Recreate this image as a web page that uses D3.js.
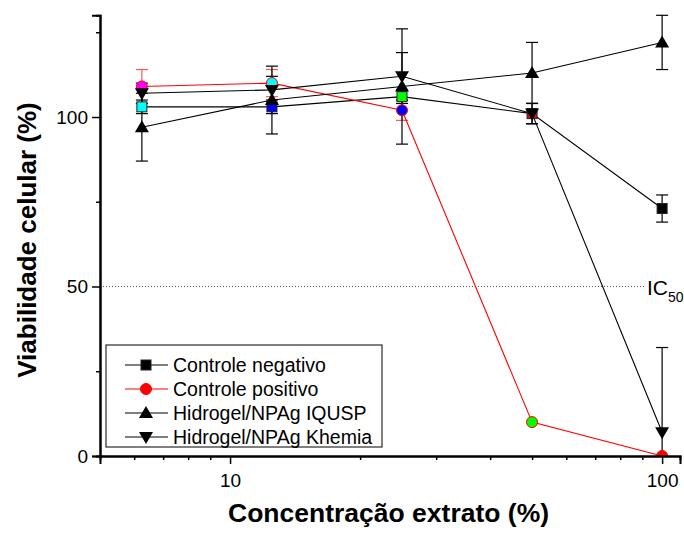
<!DOCTYPE html>
<html>
<head>
<meta charset="utf-8">
<script src="https://cdn.jsdelivr.net/npm/d3@7"></script>
<style>
  body { margin: 0; background: #fff; }
  text { font-family: "Liberation Sans", Arial, sans-serif; }
</style>
</head>
<body>
<svg id="canvas" width="684" height="533"></svg>
<script>
// concentrations (%)
let conc = [6.25, 12.5, 25, 50, 100]

let negVals = [103, 103, 106, 101, 73]
let negErr = [2, 2, 2, 3, 4]
let negFill = ["#00ffff", "#0000ff", "#00ff00", "#ff0000", "#000000"]

let posVals = [109, 110, 102, 10, 0]
let posErr = [5, 4, 3, 0, 0]
let posFill = ["#ff00ff", "#00ffff", "#0000ff", "#00ff00", "#ff0000"]

let iqVals = [97, 105, 109, 113, 122]
let iqErr = [10, 10, 17, 9, 8]

let khVals = [107, 108, 112, 101, 7]
let khErr = [3, 4, 7, 3, 25]

let seriesNames = ["Controle negativo", "Controle positivo", "Hidrogel/NPAg IQUSP", "Hidrogel/NPAg Khemia"]
let yTicks = [0, 50, 100]
let yMinor = [25, 75, 125]
let xTicks = [10, 100]
let xMinor = [6, 7, 8, 9, 20, 30, 40, 50, 60, 70, 80, 90]

let svg = d3.select("#canvas")

let x = d3.scaleLog().domain([5, 110]).range([100, 680])
let y = d3.scaleLinear().domain([0, 130]).range([456, 15.3])

svg.append("clipPath").attr("id", "plotclip")
    .append("rect").attr("x", 100).attr("y", 0).attr("width", 584).attr("height", 456)

let series = [
    {name: seriesNames[0], vals: negVals, err: negErr, line: "#000", errColor: "#000", shape: "square", fills: negFill, stroke: "#222"},
    {name: seriesNames[1], vals: posVals, err: posErr, line: "#ff0000", errColor: "#ff5555", shape: "circle", fills: posFill, stroke: "#ff0000"},
    {name: seriesNames[2], vals: iqVals, err: iqErr, line: "#000", errColor: "#000", shape: "up", fills: conc.map(() => "#000"), stroke: "#000"},
    {name: seriesNames[3], vals: khVals, err: khErr, line: "#000", errColor: "#000", shape: "down", fills: conc.map(() => "#000"), stroke: "#000"}
]

let drawMarker = (g, shape, cx, cy, fill, stroke) => {
    if (shape === "square") {
        g.append("rect").attr("x", cx - 5).attr("y", cy - 5).attr("width", 10).attr("height", 10)
            .attr("fill", fill).attr("stroke", stroke).attr("stroke-width", 1)
    } else if (shape === "circle") {
        g.append("circle").attr("cx", cx).attr("cy", cy).attr("r", 5.5)
            .attr("fill", fill).attr("stroke", stroke).attr("stroke-width", 1)
    } else if (shape === "up") {
        g.append("path").attr("d", `M${cx},${cy - 7}L${cx + 7},${cy + 5}L${cx - 7},${cy + 5}Z`)
            .attr("fill", fill)
    } else {
        g.append("path").attr("d", `M${cx},${cy + 7}L${cx + 7},${cy - 5}L${cx - 7},${cy - 5}Z`)
            .attr("fill", fill)
    }
}

// IC50 reference line
svg.append("line")
    .attr("x1", x(5)).attr("x2", 645)
    .attr("y1", y(50)).attr("y2", y(50))
    .attr("stroke", "#555").attr("stroke-width", 1).attr("stroke-dasharray", "1,2")
let ic = svg.append("text").attr("x", 647).attr("y", y(50) + 8).attr("font-size", 21).attr("fill", "#000")
ic.append("tspan").text("IC")
ic.append("tspan").attr("font-size", 14).attr("dy", 7).text("50")

let plot = svg.append("g").attr("clip-path", "url(#plotclip)")

// error bars
series.forEach(s => {
    let g = plot.append("g")
    conc.forEach((c, i) => {
        if (s.err[i] <= 0) return
        let cx = x(c)
        let top = y(s.vals[i] + s.err[i])
        let bot = y(s.vals[i] - s.err[i])
        g.append("line").attr("x1", cx).attr("x2", cx).attr("y1", top).attr("y2", bot)
            .attr("stroke", s.errColor).attr("stroke-width", 1.2)
        g.append("line").attr("x1", cx - 6).attr("x2", cx + 6).attr("y1", top).attr("y2", top)
            .attr("stroke", s.errColor).attr("stroke-width", 1.2)
        g.append("line").attr("x1", cx - 6).attr("x2", cx + 6).attr("y1", bot).attr("y2", bot)
            .attr("stroke", s.errColor).attr("stroke-width", 1.2)
    })
})

// lines
let lineGen = d3.line().x(d => x(d[0])).y(d => y(d[1]))
series.forEach(s => {
    plot.append("path")
        .datum(conc.map((c, i) => [c, s.vals[i]]))
        .attr("d", lineGen)
        .attr("fill", "none")
        .attr("stroke", s.line)
        .attr("stroke-width", 1.1)
})

// markers
series.forEach(s => {
    let g = plot.append("g")
    conc.forEach((c, i) => {
        drawMarker(g, s.shape, x(c), y(s.vals[i]), s.fills[i], s.stroke)
    })
})

// axes
let yAxis = d3.axisLeft(y).tickValues(yTicks).tickSize(8).tickPadding(4).tickFormat(d3.format("d"))
let yAxisMinor = d3.axisLeft(y).tickValues(yMinor).tickSize(4).tickFormat("")
let xAxis = d3.axisBottom(x).tickValues(xTicks).tickSize(8).tickPadding(10).tickFormat(d3.format("d"))
let xAxisMinor = d3.axisBottom(x).tickValues(xMinor).tickSize(4).tickFormat("")

let styleAxis = g => {
    g.selectAll(".domain").attr("stroke", "#000").attr("stroke-width", 2)
    g.selectAll(".tick line").attr("stroke", "#000").attr("stroke-width", 1.5)
    g.selectAll("text").attr("font-size", 19).attr("fill", "#000")
}

svg.append("g").attr("transform", "translate(100,0)").call(yAxisMinor).call(styleAxis)
svg.append("g").attr("transform", "translate(100,0)").call(yAxis).call(styleAxis)
svg.append("g").attr("transform", "translate(0,456)").call(xAxisMinor).call(styleAxis)
svg.append("g").attr("transform", "translate(0,456)").call(xAxis).call(styleAxis)

// titles
svg.append("text")
    .attr("x", 228).attr("y", 522)
    .attr("font-size", 26.5).attr("font-weight", "bold")
    .text("Concentração extrato (%)")
svg.append("text")
    .attr("transform", "translate(36,240) rotate(-90)")
    .attr("text-anchor", "middle").attr("font-size", 26).attr("font-weight", "bold")
    .text("Viabilidade celular (%)")

// legend
let legend = svg.append("g")
legend.append("rect").attr("x", 106).attr("y", 345).attr("width", 276).attr("height", 102)
    .attr("fill", "#fff").attr("stroke", "#000").attr("stroke-width", 1)
series.forEach((s, i) => {
    let ly = 365 + i * 24
    legend.append("line").attr("x1", 125).attr("x2", 168).attr("y1", ly).attr("y2", ly)
        .attr("stroke", s.line).attr("stroke-width", 1.1)
    drawMarker(legend, s.shape, 146, ly, s.shape === "circle" ? "#ff0000" : "#000", s.stroke)
    legend.append("text").attr("x", 173).attr("y", ly + 7).attr("font-size", 19.5).text(s.name)
})
</script>
</body>
</html>
